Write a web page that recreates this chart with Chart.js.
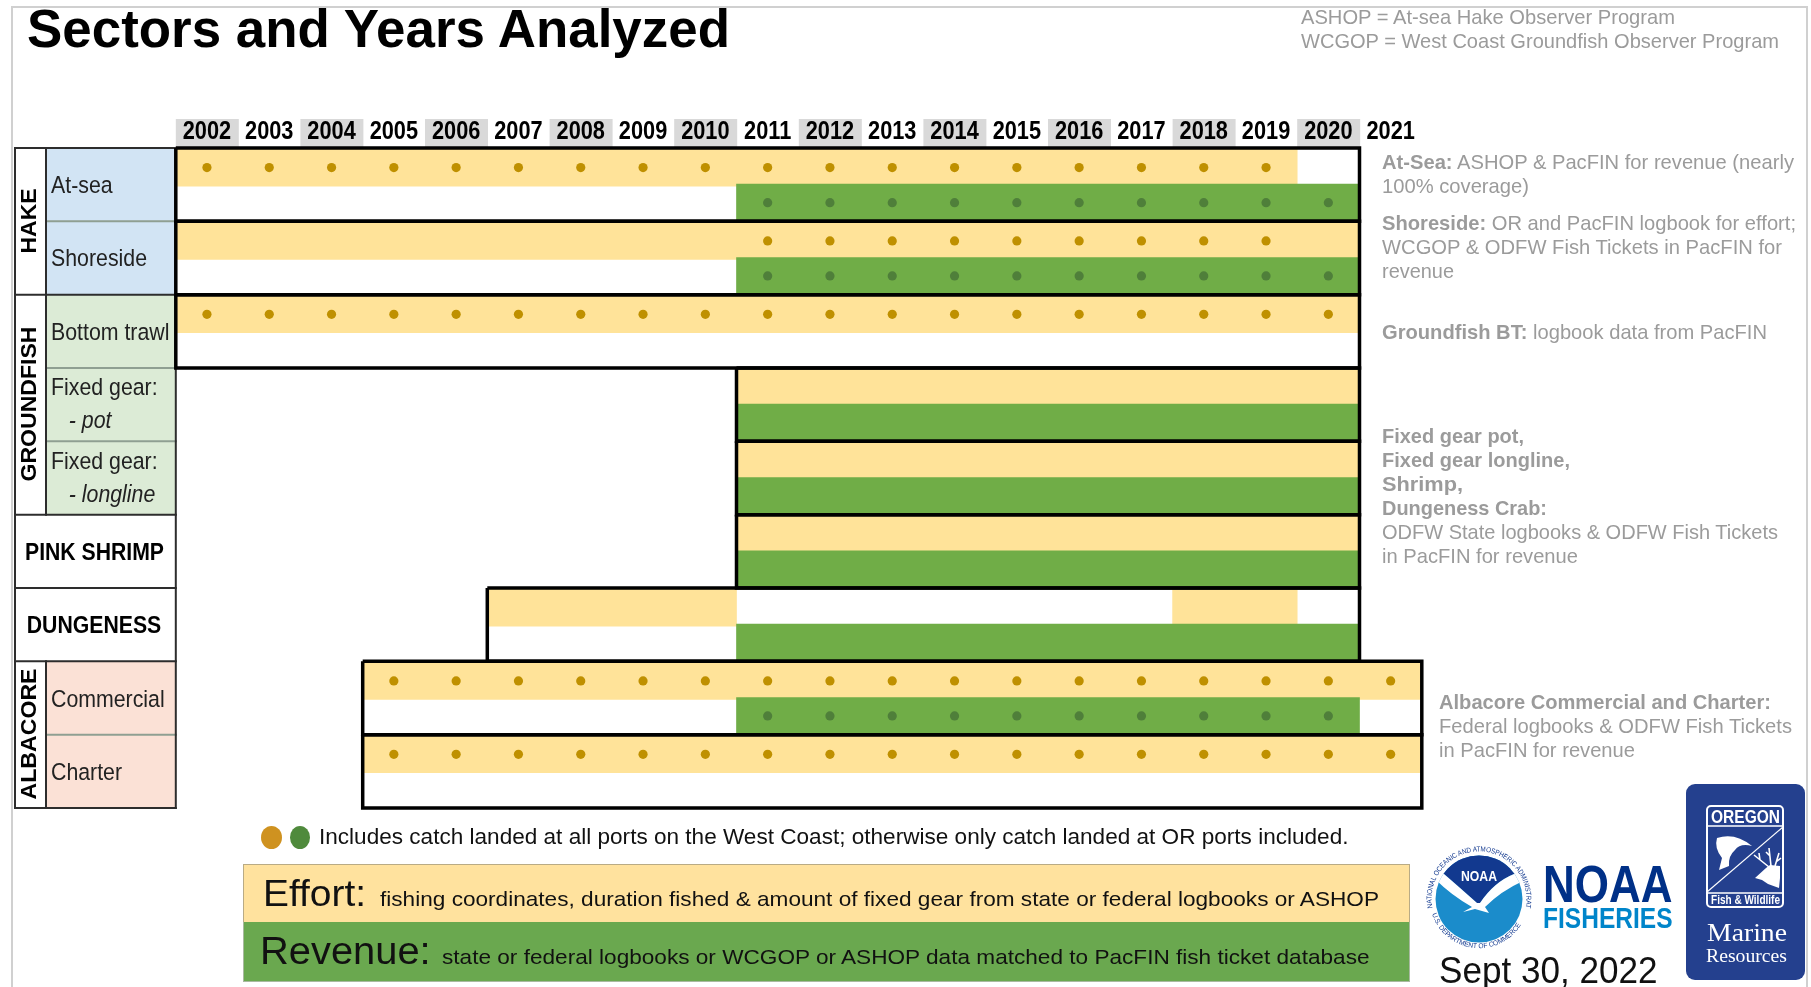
<!DOCTYPE html>
<html><head><meta charset="utf-8">
<script src="https://cdn.jsdelivr.net/npm/chart.js@4"></script>
<style>
html,body{margin:0;padding:0;background:#fff;width:1811px;height:987px;overflow:hidden;font-family:"Liberation Sans",Arial,sans-serif}
#wrap{position:relative;width:1811px;height:987px;overflow:hidden}
canvas{position:absolute;left:0;top:0}
.t{position:absolute;white-space:nowrap;line-height:1;transform-origin:0 50%}
.bx{position:absolute;box-sizing:border-box}
svg{position:absolute;overflow:visible}
</style></head><body><div id="wrap">
<div class="bx" style="left:11px;top:6px;width:1797px;height:990px;border:2.5px solid #d0d0d0"></div>
<canvas id="c" width="1811" height="987"></canvas>
<div class="bx" style="left:243px;top:864px;width:1167px;height:59px;background:#FFE29E;border:1.5px solid #b9ab85;border-bottom:none"></div>
<div class="bx" style="left:243px;top:922px;width:1167px;height:60px;background:#6AA84F;border:1.5px solid #a9b9a0;border-top:none"></div>
<div class="bx" style="left:261px;top:826px;width:21px;height:23px;border-radius:50%;background:#CF9220"></div>
<div class="bx" style="left:290px;top:826px;width:20px;height:23px;border-radius:50%;background:#4F8A3C"></div>
<svg id="noaa" style="left:1428.5px;top:848px" width="100" height="102" viewBox="-50 -51 100 102">
 <defs>
  <clipPath id="disc"><circle r="43.5"/></clipPath>
  <path id="ringTop" d="M -46.5 9 A 47.4 47.4 0 1 1 46.5 9"/>
  <path id="ringBot" d="M -47 15 A 49.4 49.4 0 0 0 47 15"/>
 </defs>
 <circle r="43.5" fill="#1B8CCB"/>
 <g clip-path="url(#disc)">
  <path d="M-45,-44 L45,-44 L45,-25 L35,-25 Q15,-17 1,4 L-2,4 Q-20,-12 -35,-25 L-45,-25Z" fill="#12398F"/>
  <path d="M-44,-29 L-35,-25 Q-20,-12 -2,4 L1,4 Q15,-17 35,-25 L44,-28 L44,-18 Q22,-8 6,8 L10,14 L-4,10 L-16,13 L-7,8 Q-28,-4 -44,-20Z" fill="#fff"/>
 </g>
 <text x="0" y="-18" text-anchor="middle" font-family="Liberation Sans" font-weight="bold" font-size="14" fill="#fff" textLength="36" lengthAdjust="spacingAndGlyphs">NOAA</text>
 <text font-family="Liberation Sans" font-size="7.2" fill="#12398F"><textPath href="#ringTop" startOffset="0" textLength="178" lengthAdjust="spacingAndGlyphs">NATIONAL OCEANIC AND ATMOSPHERIC ADMINISTRATION</textPath></text>
 <text font-family="Liberation Sans" font-size="7" fill="#12398F"><textPath href="#ringBot" startOffset="0" textLength="112" lengthAdjust="spacingAndGlyphs">U.S. DEPARTMENT OF COMMERCE</textPath></text>
</svg>
<div class="bx" style="left:1685.5px;top:784px;width:119px;height:196px;border-radius:9px;background:#24408E"></div>
<div class="bx" style="left:1706px;top:805px;width:78px;height:103px;border-radius:5px;border:2px solid #fff"></div>
<svg id="odfw" style="left:0;top:0" width="1811" height="987">
 <line x1="1707" y1="826" x2="1783" y2="826" stroke="#fff" stroke-width="1.5"/>
 <line x1="1707" y1="893" x2="1783" y2="893" stroke="#fff" stroke-width="1.5"/>
 <line x1="1783" y1="827" x2="1707" y2="892" stroke="#fff" stroke-width="1.2"/>
 <path d="M1717,838 Q1735,832 1752,846 Q1740,843 1735,850 Q1728,856 1729,866 L1719,870 L1722,858 Q1714,848 1717,838Z" fill="#fff"/>
 <path d="M1755,878 L1766,868 L1770,865 L1780,866 L1780,878 L1779,888 L1768,884 L1762,880Z" fill="#fff"/>
 <path d="M1769,867 L1754,855 M1760,860 L1759,853 M1771,866 L1769,848 M1770,856 L1766,852 M1775,866 L1779,853 M1776,862 L1781,858" stroke="#fff" stroke-width="1.6" fill="none"/>
</svg>
</div>
<script>
// ---- chart data ----
const years = [2002,2003,2004,2005,2006,2007,2008,2009,2010,2011,2012,2013,2014,2015,2016,2017,2018,2019,2020,2021];
const sectors = ['At-sea','Shoreside','Bottom trawl','Fixed gear: pot','Fixed gear: longline','Pink shrimp','Dungeness','Albacore commercial','Albacore charter'];
// first and last year of the outlined box for each sector
const boxFirst = [2002,2002,2002,2011,2011,2011,2007,2005,2005];
const boxLast  = [2020,2020,2020,2020,2020,2020,2020,2021,2021];
// effort (yellow) year ranges; null = none
const effortFirst = [2002,2002,2002,2011,2011,2011,2007,2005,2005];
const effortLast  = [2019,2020,2020,2020,2020,2020,2010,2021,2021];
const effortSecondFirst = [null,null,null,null,null,null,2018,null,null];
const effortSecondLast  = [null,null,null,null,null,null,2019,null,null];
// revenue (green) year ranges
const revenueFirst = [2011,2011,null,2011,2011,2011,2011,2011,null];
const revenueLast  = [2020,2020,null,2020,2020,2020,2020,2020,null];
// years with "all West Coast ports" dots
const effortDotFirst = [2002,2011,2002,null,null,null,null,2005,2005];
const effortDotLast  = [2019,2019,2020,null,null,null,null,2021,2021];
const revenueDotFirst = [2011,2011,null,null,null,null,null,2011,null];
const revenueDotLast  = [2020,2020,null,null,null,null,null,2020,null];
// row-label axis
const rowLabels = ['At-sea','Shoreside','Bottom trawl','Fixed gear:','- pot','Fixed gear:','- longline','Commercial','Charter'];
const rowLabelSlots = [1.05,3.03,5.05,6.54,7.46,8.57,9.47,15.05,17.05];
const rowLabelItalic = [false,false,false,false,true,false,true,false,false];
const rowLabelIndent = [0,0,0,0,1,0,1,0,0];

const YELLOW='#FFE399', GREEN='#70AD47', DOTY='#BF9000', DOTG='#4F7F3A';
const EFFORT_SLOT=0.535, REVENUE_SLOT=1.49, TICK_SQUEEZE=0.87;
const SANS='"Liberation Sans",Arial,sans-serif';

const rangeBars=(first,last,slot)=>first.map((f,i)=>f==null?null:({x:[f-.5,last[i]+.5],y:i*2+slot})).filter(Boolean);
const dotPts=(first,last,slot)=>first.flatMap((f,i)=>f==null?[]:years.filter(y=>y>=f&&y<=last[i]).map(y=>({x:y,y:i*2+slot})));
const barDs=(label,data,color,order)=>({type:'bar',label,data,indexAxis:'y',backgroundColor:color,borderWidth:0,barThickness:37,grouped:false,order,xAxisID:'x',yAxisID:'y'});
const dotDs=(label,data,color)=>({type:'scatter',label,data,pointRadius:4.6,pointHoverRadius:4.6,pointBackgroundColor:color,pointBorderWidth:0,showLine:false,order:1,xAxisID:'x',yAxisID:'y'});
const boxDs=sectors.map((s,i)=>({type:'scatter',label:s+' box',showLine:true,clip:false,borderColor:'#000',borderWidth:3.5,borderJoinStyle:'miter',pointRadius:0,fill:false,order:0,xAxisID:'x',yAxisID:'y',
  data:[{x:boxFirst[i]-.5,y:i*2},{x:boxLast[i]+.5,y:i*2},{x:boxLast[i]+.5,y:i*2+2},{x:boxFirst[i]-.5,y:i*2+2},{x:boxFirst[i]-.5,y:i*2}]}));

const tablePlugin={id:'table',
 beforeDraw(ch){const c=ch.ctx,x=ch.scales.x,y=ch.scales.y;c.save();
  years.forEach((yr,i)=>{if(i%2===0&&yr<2021){c.fillStyle='#D9D9D9';c.fillRect(x.getPixelForValue(yr-.5),119,x.getPixelForValue(yr+.5)-x.getPixelForValue(yr-.5)+.7,28);}});
  const L=15,M=46,R=x.left,py=s=>y.getPixelForValue(s);
  const cell=(a,b,col)=>{c.fillStyle=col;c.fillRect(M,py(a),R-M,py(b)-py(a));};
  cell(0,4,'#D2E4F4');cell(4,10,'#DCEBD6');cell(14,18,'#FBE1D6');
  c.lineWidth=2;
  const hl=(s,a,col)=>{c.strokeStyle=col;c.beginPath();c.moveTo(a,py(s));c.lineTo(R+1,py(s));c.stroke();};
  [0,4,10,12,14,18].forEach(s=>hl(s,L,'#2d2d2d'));
  [2,6,8,16].forEach(s=>hl(s,M,'#8f9f92'));
  const vl=(px,a,b)=>{c.strokeStyle='#2d2d2d';c.beginPath();c.moveTo(px,py(a)-1);c.lineTo(px,py(b)+1);c.stroke();};
  vl(L,0,18);vl(R,0,18);vl(M,0,10);vl(M,14,18);
  c.restore();
  // the reference's tick text is horizontally condensed: squeeze it while the scales draw
  const orig=c.fillText;ch.$origFill=orig;
  c.fillText=function(t,px,py2,w){this.save();this.scale(TICK_SQUEEZE,1);orig.call(this,t,px/TICK_SQUEEZE,py2,w);this.restore();};
 },
 beforeDatasetsDraw(ch){if(ch.$origFill){delete ch.ctx.fillText;ch.$origFill=null;}},
 afterDraw(ch){const c=ch.ctx,y=ch.scales.y;const py=s=>y.getPixelForValue(s);
  const fit=(txt,cx,cy,font,len,rotate)=>{c.save();c.translate(cx,cy);if(rotate)c.rotate(-Math.PI/2);c.font=font;c.fillStyle='#000';c.textAlign='center';c.textBaseline='middle';
    const m=c.measureText(txt).width;c.scale(len/m,1);c.fillText(txt,0,0);c.restore();};
  fit('PINK SHRIMP',94.5,py(11)+2.5,'bold 24px "Liberation Sans"',139);
  fit('DUNGENESS',94,py(13)+2,'bold 24px "Liberation Sans"',134.5);
  fit('HAKE',30,221,'bold 22px "Liberation Sans"',65,true);
  fit('GROUNDFISH',30,404,'bold 22px "Liberation Sans"',155,true);
  fit('ALBACORE',30,734,'bold 22px "Liberation Sans"',131,true);
 }};

new Chart(document.getElementById('c'),{
 data:{datasets:[
  barDs('Effort',rangeBars(effortFirst,effortLast,EFFORT_SLOT),YELLOW,3),
  barDs('Effort (second period)',rangeBars(effortSecondFirst,effortSecondLast,EFFORT_SLOT),YELLOW,3),
  barDs('Revenue',rangeBars(revenueFirst,revenueLast,REVENUE_SLOT),GREEN,2),
  dotDs('Effort, all West Coast ports',dotPts(effortDotFirst,effortDotLast,EFFORT_SLOT),DOTY),
  dotDs('Revenue, all West Coast ports',dotPts(revenueDotFirst,revenueDotLast,REVENUE_SLOT),DOTG),
  ...boxDs]},
 options:{responsive:false,animation:false,events:[],
  layout:{padding:{left:51,top:0,right:1811-1421.8,bottom:987-808}},
  plugins:{legend:{display:false},tooltip:{enabled:false},title:{display:false}},
  scales:{
   x:{type:'linear',position:'top',min:2001.5,max:2021.5,offset:false,
      grid:{display:false,drawTicks:false},border:{display:false},
      afterBuildTicks(a){a.ticks=years.map(v=>({value:v}));},
      afterFit(a){a.height=148;},
      ticks:{autoSkip:false,maxRotation:0,minRotation:0,padding:0.5,color:'#000',font:{family:SANS,weight:'bold',size:25},callback:v=>String(v)}},
   y:{type:'linear',position:'left',reverse:true,min:0,max:18,offset:false,
      grid:{display:false,drawTicks:false},border:{display:false},
      afterBuildTicks(a){a.ticks=rowLabelSlots.map(v=>({value:v}));},
      afterFit(a){a.width=175.8-51;},
      ticks:{autoSkip:false,crossAlign:'far',padding:0,color:'#222',
        font:ctx=>({family:SANS,size:24.5,style:(rowLabelItalic[ctx.index]?'italic':'normal')}),
        callback:(v,i)=>(rowLabelIndent[i]?'\u00A0\u00A0\u00A0':'')+rowLabels[i]}}
  }},
 plugins:[tablePlugin]
});

// ---- page text, each line fitted to the width it has in the reference ----
const wrap=document.getElementById('wrap');
function text(html,x,capCy,size,width,color,extra){
 const s=document.createElement('span');s.className='t';s.innerHTML=html;
 s.style.cssText='left:'+x+'px;top:'+(capCy-size*.49)+'px;font-size:'+size+'px;color:'+(color||'#000')+';'+(extra||'');
 wrap.appendChild(s);
 const w=s.getBoundingClientRect().width;s.style.transform='scaleX('+(width/w)+')';
}
const G='#9b9b9b';
text('<b>Sectors and Years Analyzed</b>',27,28,53,703);
text('ASHOP = At-sea Hake Observer Program',1301,16.2,21,374,G);
text('WCGOP = West Coast Groundfish Observer Program',1301,40.5,21,478,G);
text('<b>At-Sea:</b> ASHOP &amp; PacFIN for revenue (nearly',1381.5,161.5,21,412,G);
text('100% coverage)',1381.5,185.5,21,147,G);
text('<b>Shoreside:</b> OR and PacFIN logbook for effort;',1381.5,222,21,414,G);
text('WCGOP &amp; ODFW Fish Tickets in PacFIN for',1381.5,246.5,21,400,G);
text('revenue',1381.5,270.5,21,72,G);
text('<b>Groundfish BT:</b> logbook data from PacFIN',1381.5,331,21,385,G);
text('<b>Fixed gear pot,</b>',1381.5,435.4,21,142,G);
text('<b>Fixed gear longline,</b>',1381.5,459,21,188,G);
text('<b>Shrimp,</b>',1381.5,483,21,81,G);
text('<b>Dungeness Crab:</b>',1381.5,507,21,165,G);
text('ODFW State logbooks &amp; ODFW Fish Tickets',1381.5,531.5,21,396,G);
text('in PacFIN for revenue',1381.5,555.5,21,196,G);
text('<b>Albacore Commercial and Charter:</b>',1439,701,21,332,G);
text('Federal logbooks &amp; ODFW Fish Tickets',1439,725.7,21,353,G);
text('in PacFIN for revenue',1439,749.3,21,196,G);
text('Includes catch landed at all ports on the West Coast; otherwise only catch landed at OR ports included.',318.5,837,22,1029.5,'#111');
text('Effort:',263.4,892.7,37,103,'#111');
text('fishing coordinates, duration fished &amp; amount of fixed gear from state or federal logbooks or ASHOP',380,898,21,999,'#111');
text('Revenue:',259.8,951,38,170.7,'#111');
text('state or federal logbooks or WCGOP or ASHOP data matched to PacFIN fish ticket database',442,956,21,927.5,'#111');
text('<b>NOAA</b>',1543,883.5,51,129.5,'#003087');
text('<b>FISHERIES</b>',1543,917.5,30,129.5,'#0085CA');
text('Sept 30, 2022',1439,971,36,218.5,'#111');
text('<b>OREGON</b>',1711,816.7,19,69,'#fff');
text('<b>Fish &amp; Wildlife</b>',1711,899,13,69,'#fff');
text('Marine',1707,933,26,80,'#fff','font-family:"Liberation Serif"');
text('Resources',1706,955,19,81,'#fff','font-family:"Liberation Serif"');
</script></body></html>
